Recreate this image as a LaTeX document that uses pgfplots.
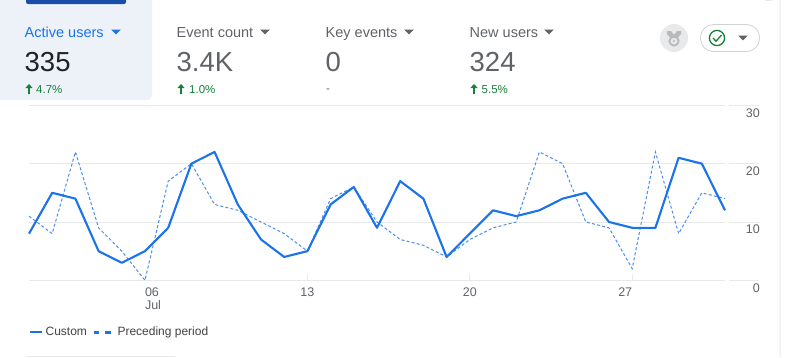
\documentclass[border=0pt]{standalone}
\usepackage{pgfplots}
\pgfplotsset{compat=1.18}
\usepackage{fontspec}
\setmainfont{Liberation Sans}
\definecolor{gablue}{HTML}{1A73E8}
\definecolor{gadash}{HTML}{4A8FEE}
\definecolor{gagray}{HTML}{5F6368}
\definecolor{gadark}{HTML}{202124}
\definecolor{gagreen}{HTML}{188038}
\definecolor{gagrid}{HTML}{E8E9EB}
\definecolor{gapanel}{HTML}{EDF2F8}
\definecolor{gatab}{HTML}{174EA6}
\newcommand{\fs}[1]{\fontsize{#1}{#1}\selectfont}
\newcommand{\tri}[3]{\fill[#3] (#1-4.8,#2-2.4) -- (#1+4.8,#2-2.4) -- (#1,#2+2.4) -- cycle;}
\newcommand{\uparr}[2]{\fill[gagreen] (#1-0.9,#2+5) -- (#1-0.9,#2-1) -- (#1-3.6,#2-1) -- (#1,#2-5) -- (#1+3.6,#2-1) -- (#1+0.9,#2-1) -- (#1+0.9,#2+5) -- cycle;}
\pgfplotstableread{
day custom preceding
1 8 11
2 15 8
3 14 22
4 5 9
5 3 5
6 5 0
7 9 17
8 20 20
9 22 13
10 13 12
11 7 10
12 4 8
13 5 5
14 13 14
15 16 16
16 9 10
17 17 7
18 14 6
19 4 4
20 8 7
21 12 9
22 11 10
23 12 22
24 14 20
25 15 10
26 10 9
27 9 2
28 9 22
29 21 8
30 20 15
31 12 14
}\datatable
\begin{document}
\begin{tikzpicture}
\path[use as bounding box] (0pt,0pt) rectangle (785pt,-357pt);
\begin{scope}[x=1pt,y=-1pt]
\fill[white] (0,0) rectangle (785,357);
% card edge
\draw[gagrid,line width=1pt] (765,0.4) -- (770,0.4) arc[start angle=90,end angle=0,radius=10] -- (780,357);
% selected panel
\fill[gapanel,rounded corners=6pt] (-8,-8) rectangle (152,100);
\fill[gatab,rounded corners=2pt] (26,-4) rectangle (126,4);
% metric cards
\node[anchor=base west,inner sep=0,text=gablue] at (24.5,37) {\fs{14.5}Active users};
\tri{116}{32}{gablue}
\node[anchor=base west,inner sep=0,text=gadark] at (24.5,71) {\fs{27.5}335};
\uparr{29}{89}
\node[anchor=base west,inner sep=0,text=gagreen] at (36,93) {\fs{11.5}4.7\%};
\node[anchor=base west,inner sep=0,text=gagray] at (176.5,37) {\fs{14.5}Event count};
\tri{265}{32}{gagray}
\node[anchor=base west,inner sep=0,text=gagray] at (176.5,71) {\fs{27.5}3.4K};
\uparr{181}{89}
\node[anchor=base west,inner sep=0,text=gagreen] at (189,93) {\fs{11.5}1.0\%};
\node[anchor=base west,inner sep=0,text=gagray] at (325.5,37) {\fs{14.5}Key events};
\tri{409}{32}{gagray}
\node[anchor=base west,inner sep=0,text=gagray] at (325.5,71) {\fs{27.5}0};
\node[anchor=base west,inner sep=0,text=gagray] at (326,92) {\fs{11.5}-};
\node[anchor=base west,inner sep=0,text=gagray] at (469.5,37) {\fs{14.5}New users};
\tri{549}{32}{gagray}
\node[anchor=base west,inner sep=0,text=gagray] at (469.5,71) {\fs{27.5}324};
\uparr{474}{89}
\node[anchor=base west,inner sep=0,text=gagreen] at (481.5,93) {\fs{11.5}5.5\%};
% badge
\fill[gagrid] (674,38) circle[radius=14];
\fill[gray!55] (667,31) -- (671,31) -- (674,35) -- (677,31) -- (681,31) -- (681,34) -- (677.5,38) -- (670.5,38) -- (667,34) -- cycle;
\draw[gray!55,line width=1.8pt] (674,41) circle[radius=4.6];
\fill[gray!55] (674,41) circle[radius=1.2];
% pill
\draw[gagrid!90!black,line width=0.8pt,fill=white,rounded corners=13pt] (700.5,24.5) rectangle (759.5,51.5);
\draw[gagreen,line width=1.3pt] (717,38) circle[radius=7.6];
\draw[gagreen,line width=1.3pt] (713,38) -- (716,41.2) -- (721.5,35);
\tri{743}{38}{gagray}
% grid stubs right of the plot
\foreach \yy in {105.3,163.3,222.3,280.3}{\draw[gagrid,line width=0.8pt] (729,\yy) -- (759,\yy);}
% bottom rule
\draw[gagrid,line width=0.8pt] (26,356.5) -- (175,356.5);
\end{scope}
\begin{axis}[
  at={(29pt,-280.3pt)},anchor=south west,scale only axis,
  width=696pt,height=175pt,
  xmin=1,xmax=31,ymin=0,ymax=30,
  clip=false,
  axis line style={draw=none},
  ymajorgrids,
  grid style={gagrid,line width=0.8pt},
  ytick={0,10,20,30},
  ytick pos=right,
  y tick style={draw=none},
  yticklabel style={anchor=north east,inner sep=0pt,xshift=35pt,yshift=-3pt,text=gagray,font=\fs{12.5}},
  /pgf/number format/assume math mode=true,
  xtick={6,13,20,27},
  xticklabels={\makebox[0pt][l]{\shortstack[l]{06\\[1pt]Jul}},13,20,\makebox[0pt][r]{27}},
  x tick style={gagrid,line width=0.8pt},
  major tick length=6pt,
  xtick pos=bottom,
  xticklabel style={anchor=north,inner sep=0pt,yshift=-7pt,text=gagray,font=\fs{12.5}},
  legend columns=2,
  legend cell align=left,
  legend style={at={(0,0)},anchor=north west,draw=none,fill=none,inner sep=0pt,
    xshift=-0.7pt,yshift=-44.7pt,font=\fs{12},text=gadark!85!white,
    /tikz/every even column/.append style={column sep=3.2pt}},
]
\addplot[gadash,line width=1pt,dash pattern=on 3pt off 2.2pt,forget plot] table[x=day,y=preceding]{\datatable};
\addplot[gablue,line width=2.1pt,line join=round,forget plot] table[x=day,y=custom]{\datatable};
\addlegendimage{legend image code/.code={\path[draw=none] (0pt,0pt) -- (14pt,0pt);\draw[gablue,line width=2.2pt] (0pt,0pt) -- (12.5pt,0pt);}}
\addlegendentry{Custom}
\addlegendimage{legend image code/.code={\path[draw=none] (0pt,0pt) -- (22pt,0pt);\draw[gablue,line width=2.8pt,dash pattern=on 5.7pt off 6pt] (0pt,0pt) -- (17.4pt,0pt);}}
\addlegendentry{Preceding period}
\end{axis}
\end{tikzpicture}
\end{document}
